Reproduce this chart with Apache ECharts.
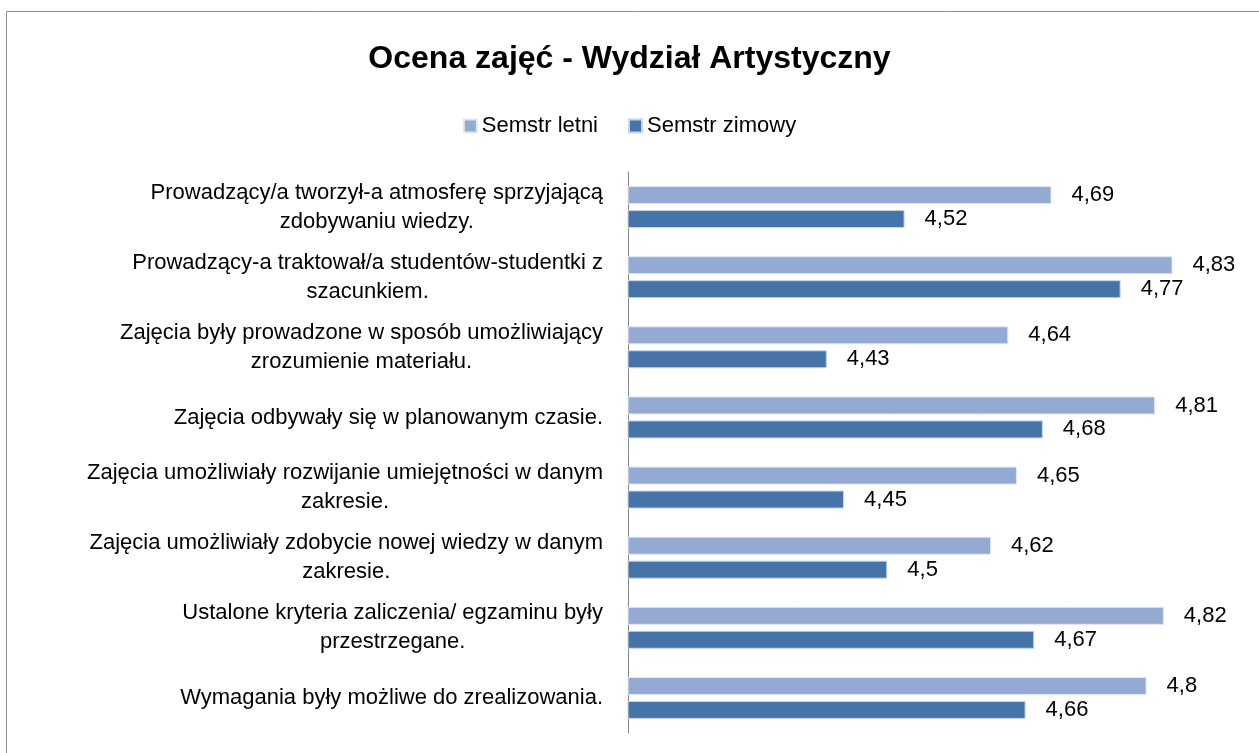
<!DOCTYPE html>
<html>
<head>
<meta charset="utf-8">
<script src="https://cdn.jsdelivr.net/npm/echarts@6/dist/echarts.min.js"></script>
<style>
  html, body { margin: 0; padding: 0; background: #fff; }
  #chart { width: 1259px; height: 753px; }
</style>
</head>
<body>
<div id="chart"></div>
<script>
const categories = [
  "Prowadzący/a tworzył-a atmosferę sprzyjającą\nzdobywaniu wiedzy.",
  "Prowadzący-a traktował/a studentów-studentki z\nszacunkiem.",
  "Zajęcia były prowadzone w sposób umożliwiający\nzrozumienie materiału.",
  "Zajęcia odbywały się w planowanym czasie.",
  "Zajęcia umożliwiały rozwijanie umiejętności w danym\nzakresie.",
  "Zajęcia umożliwiały zdobycie nowej wiedzy w danym\nzakresie.",
  "Ustalone kryteria zaliczenia/ egzaminu były\nprzestrzegane.",
  "Wymagania były możliwe do zrealizowania."
];
const seriesNames = ["Semstr letni", "Semstr zimowy"];
const letni = [4.69, 4.83, 4.64, 4.81, 4.65, 4.62, 4.82, 4.8];
const zimowy = [4.52, 4.77, 4.43, 4.68, 4.45, 4.5, 4.67, 4.66];
const colors = ["#95AAD3", "#4673A8"];
const FONT = "Liberation Sans";

const chart = echarts.init(document.getElementById('chart'));
const valueLabel = {
  show: true,
  position: 'right',
  distance: 20,
  color: '#000',
  fontFamily: FONT,
  fontSize: 22,
  formatter: p => String(p.value).replace('.', ',')
};
chart.setOption({
  animation: false,
  backgroundColor: '#fff',
  graphic: [{
    type: 'rect',
    shape: { x: 6.5, y: 11.5, width: 1400, height: 900 },
    style: { fill: 'none', stroke: '#8c8c8c', lineWidth: 1 },
    silent: true
  }],
  title: {
    text: 'Ocena zajęć - Wydział Artystyczny',
    left: 'center',
    top: 38,
    textStyle: { fontFamily: FONT, fontWeight: 'bold', fontSize: 32, color: '#000' }
  },
  legend: {
    data: seriesNames,
    top: 110,
    left: 'center',
    itemWidth: 13,
    itemHeight: 13,
    itemGap: 30,
    icon: 'rect',
    textStyle: { fontFamily: FONT, fontSize: 22, color: '#000' }
  },
  grid: { left: 628, right: 26, top: 172, bottom: 20, containLabel: false },
  xAxis: {
    type: 'value',
    min: 4.2,
    max: 4.9,
    show: false,
    splitLine: { show: false }
  },
  yAxis: {
    type: 'category',
    inverse: true,
    data: categories,
    axisLine: { show: true, lineStyle: { color: '#868686', width: 1 } },
    axisTick: { show: false },
    axisLabel: {
      margin: 25,
      align: 'right',
      fontFamily: FONT,
      fontSize: 22,
      color: '#000',
      lineHeight: 29,
      formatter: v => v.split('\n').map(s => '{c|' + s + '}').join('\n'),
      rich: { c: { align: 'center', fontFamily: FONT, fontSize: 22, lineHeight: 29, color: '#000' } }
    }
  },
  series: [
    {
      name: seriesNames[0], type: 'bar', data: letni,
      barWidth: 18, barGap: '33%',
      itemStyle: { color: colors[0], borderColor: '#dfe6f2', borderWidth: 1 },
      label: valueLabel
    },
    {
      name: seriesNames[1], type: 'bar', data: zimowy,
      barWidth: 18, barGap: '33%',
      itemStyle: { color: colors[1], borderColor: '#c9d4e6', borderWidth: 1 },
      label: valueLabel
    }
  ]
});
</script>
</body>
</html>
